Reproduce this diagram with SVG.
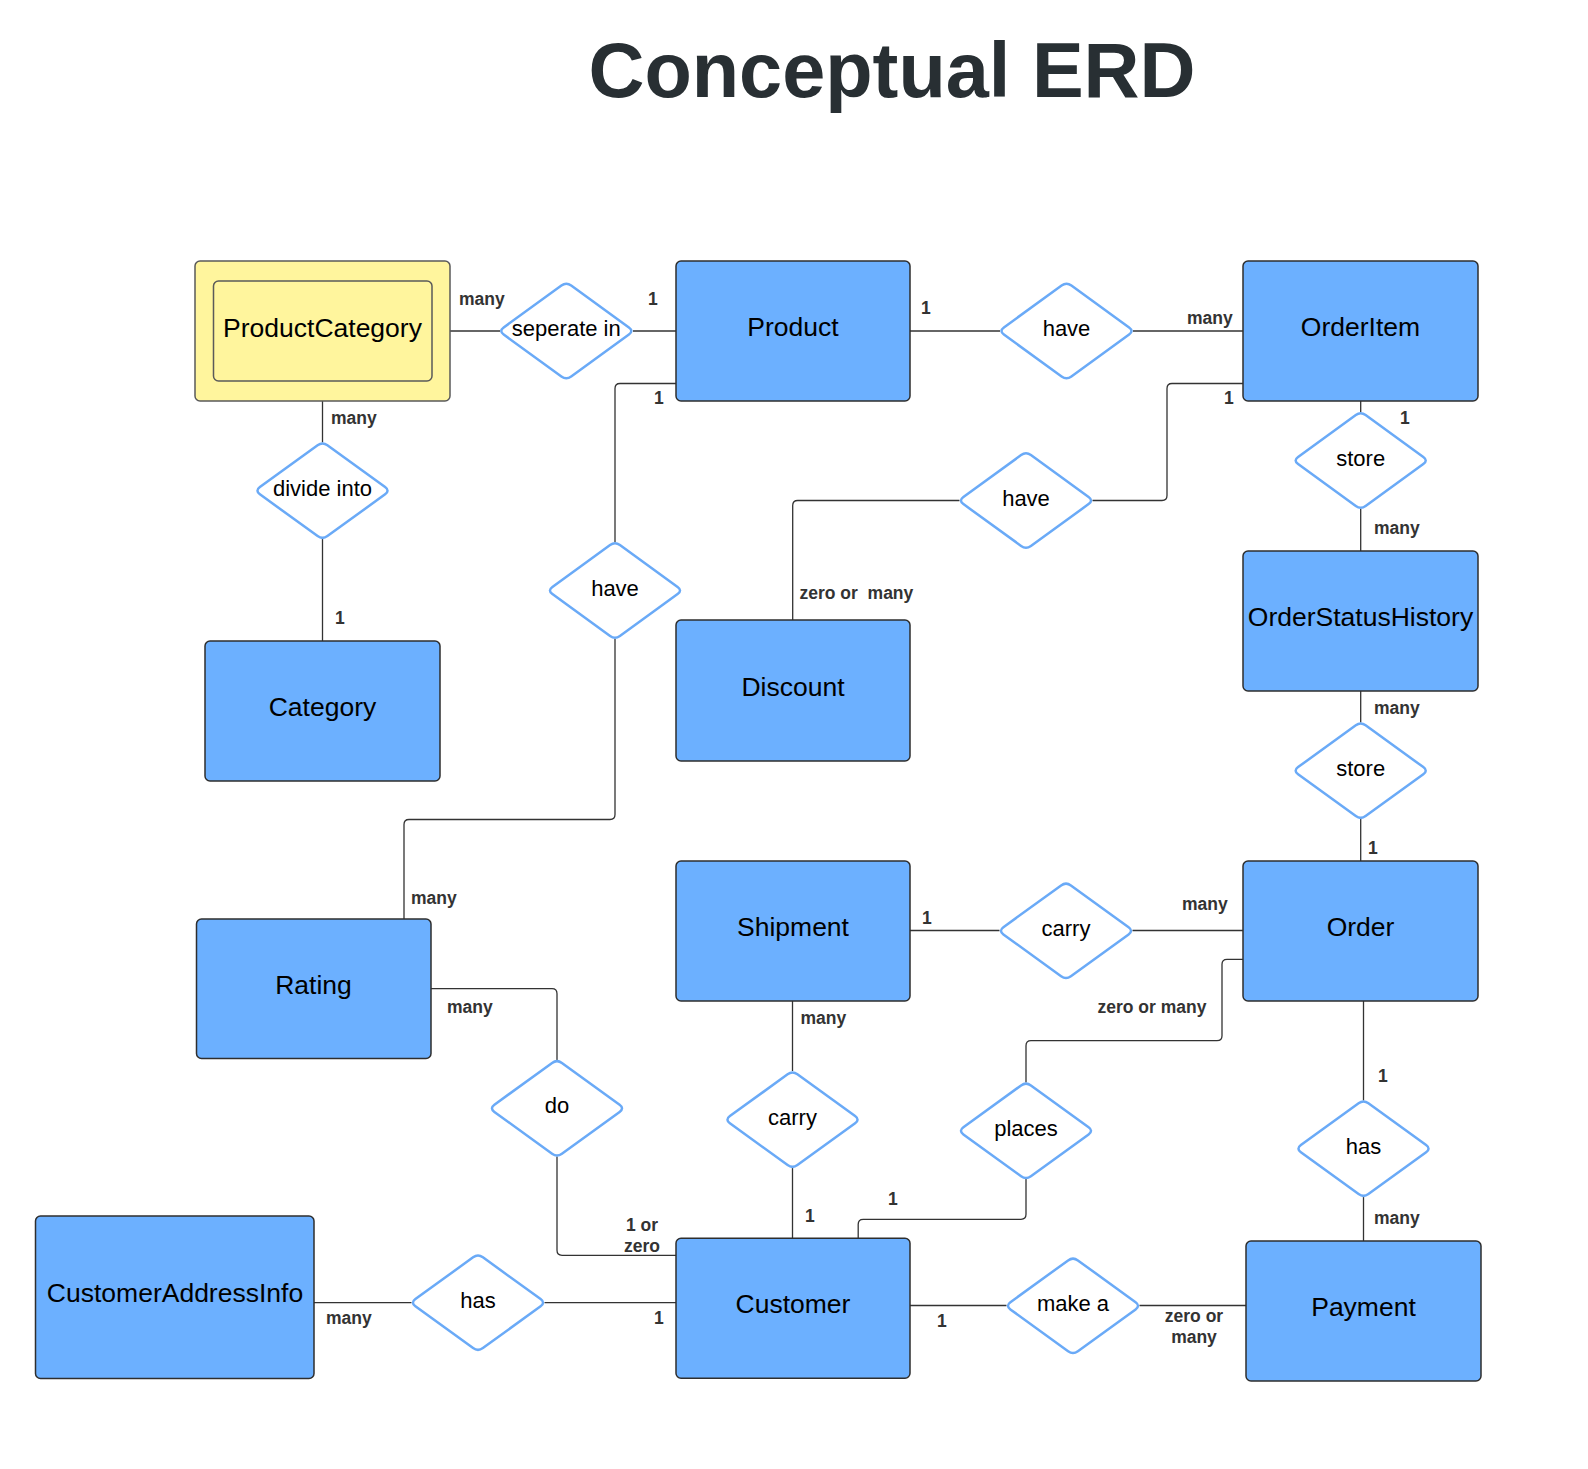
<svg xmlns="http://www.w3.org/2000/svg" xmlns:xlink="http://www.w3.org/1999/xlink" width="1588" height="1469" viewBox="0 0 1588 1469">
<style>
.ent{fill:#6cb0ff;stroke:#2e2e2e;stroke-width:1.5}
.weak{fill:#fff59d;stroke:#5a5a5a;stroke-width:1.5}
.dia{fill:#ffffff;stroke:#6aaaf7;stroke-width:2.5}
.et{font-family:"Liberation Sans",Arial,sans-serif;font-size:26.5px;fill:#000;text-anchor:middle}
.dt{font-family:"Liberation Sans",Arial,sans-serif;font-size:22px;fill:#000;text-anchor:middle}
.lb{font-family:"Liberation Sans",Arial,sans-serif;font-size:17.5px;font-weight:bold;fill:#333;white-space:pre}
.lbm{font-family:"Liberation Sans",Arial,sans-serif;font-size:17.5px;font-weight:bold;fill:#333;text-anchor:middle}
.cn{fill:none;stroke:#333;stroke-width:1.3}
.title{font-family:"Liberation Sans",Arial,sans-serif;font-size:77.5px;font-weight:bold;fill:#282f33;text-anchor:middle}
</style>
<defs>
<path id="dia" d="M 4.9,-45.4 L 62.6,-3.6 Q 67.5,0 62.6,3.6 L 4.9,45.4 Q 0,49 -4.9,45.4 L -62.6,3.6 Q -67.5,0 -62.6,-3.6 L -4.9,-45.4 Q 0,-49 4.9,-45.4 Z"/>
</defs>
<rect width="1588" height="1469" fill="#ffffff"/>
<text class="title" x="892" y="97">Conceptual ERD</text>

<g id="connectors">
<path class="cn" d="M450,331 H500"/>
<path class="cn" d="M633,331 H676"/>
<path class="cn" d="M910,331 H1000"/>
<path class="cn" d="M1133,331 H1243"/>
<path class="cn" d="M676,383.5 H620 Q615,383.5 615,388.5 V542"/>
<path class="cn" d="M615,639 V814.5 Q615,819.5 610,819.5 H409 Q404,819.5 404,824.5 V919"/>
<path class="cn" d="M322.5,401 V442.5"/>
<path class="cn" d="M322.5,539 V641"/>
<path class="cn" d="M1243,383.5 H1172 Q1167,383.5 1167,388.5 V495.5 Q1167,500.5 1162,500.5 H1092.5"/>
<path class="cn" d="M959.5,500.5 H797.7 Q792.7,500.5 792.7,505.5 V620"/>
<path class="cn" d="M1360.7,401 V412"/>
<path class="cn" d="M1360.7,509 V551"/>
<path class="cn" d="M1360.7,691 V722.5"/>
<path class="cn" d="M1360.7,819 V861"/>
<path class="cn" d="M910,930.5 H999.5"/>
<path class="cn" d="M1132.5,930.5 H1243"/>
<path class="cn" d="M1243,959.3 H1227 Q1222,959.3 1222,964.3 V1035.7 Q1222,1040.7 1217,1040.7 H1031 Q1026,1040.7 1026,1045.7 V1082.5"/>
<path class="cn" d="M1026,1179 V1214.3 Q1026,1219.3 1021,1219.3 H863.2 Q858.2,1219.3 858.2,1224.3 V1238.3"/>
<path class="cn" d="M792.5,1001 V1071"/>
<path class="cn" d="M792.5,1168 V1238.3"/>
<path class="cn" d="M1363.5,1001 V1100.5"/>
<path class="cn" d="M1363.5,1197 V1241"/>
<path class="cn" d="M431,988.7 H552 Q557,988.7 557,993.7 V1060"/>
<path class="cn" d="M557,1156.5 V1250.3 Q557,1255.3 562,1255.3 H676"/>
<path class="cn" d="M314,1302.7 H411.5"/>
<path class="cn" d="M544.5,1302.7 H676"/>
<path class="cn" d="M910,1305.5 H1006.5"/>
<path class="cn" d="M1139.5,1305.5 H1246"/>
</g>

<g id="labels">
<text class="lb" x="459" y="305">many</text>
<text class="lb" x="648" y="305">1</text>
<text class="lb" x="331" y="424">many</text>
<text class="lb" x="654" y="404">1</text>
<text class="lb" x="921" y="314">1</text>
<text class="lb" x="1187" y="324">many</text>
<text class="lb" x="1224" y="404">1</text>
<text class="lb" x="1400" y="424">1</text>
<text class="lb" x="1374" y="534">many</text>
<text class="lb" x="335" y="624">1</text>
<text class="lb" x="799.5" y="599">zero or  many</text>
<text class="lb" x="1374" y="714">many</text>
<text class="lb" x="1368" y="854">1</text>
<text class="lb" x="411" y="904">many</text>
<text class="lb" x="447" y="1013">many</text>
<text class="lbm" x="642" y="1230.5">1 or</text>
<text class="lbm" x="642" y="1251.5">zero</text>
<text class="lb" x="800.5" y="1024">many</text>
<text class="lb" x="805" y="1221.5">1</text>
<text class="lb" x="922" y="924">1</text>
<text class="lb" x="1182" y="910">many</text>
<text class="lb" x="1097.5" y="1013">zero or many</text>
<text class="lb" x="1378" y="1082">1</text>
<text class="lb" x="888" y="1205">1</text>
<text class="lb" x="1374" y="1224">many</text>
<text class="lb" x="326" y="1324">many</text>
<text class="lb" x="654" y="1324">1</text>
<text class="lb" x="937" y="1327">1</text>
<text class="lbm" x="1194" y="1321.5">zero or</text>
<text class="lbm" x="1194" y="1342.5">many</text>
</g>

<g id="ProductCategory">
<rect class="weak" x="195" y="261" width="255" height="140" rx="5"/>
<rect class="weak" x="213.5" y="281" width="218.5" height="100" rx="5"/>
<text class="et" x="322.5" y="337">ProductCategory</text>
</g>
<g id="Product">
<rect class="ent" x="676" y="261" width="234" height="140" rx="5"/>
<text class="et" x="793" y="336">Product</text>
</g>
<g id="OrderItem">
<rect class="ent" x="1243" y="261" width="235" height="140" rx="5"/>
<text class="et" x="1360.5" y="336">OrderItem</text>
</g>
<g id="OrderStatusHistory">
<rect class="ent" x="1243" y="551" width="235" height="140" rx="5"/>
<text class="et" x="1360.5" y="626">OrderStatusHistory</text>
</g>
<g id="Category">
<rect class="ent" x="205" y="641" width="235" height="140" rx="5"/>
<text class="et" x="322.5" y="716">Category</text>
</g>
<g id="Discount">
<rect class="ent" x="676" y="620" width="234" height="141" rx="5"/>
<text class="et" x="793" y="695.5">Discount</text>
</g>
<g id="Shipment">
<rect class="ent" x="676" y="861" width="234" height="140" rx="5"/>
<text class="et" x="793" y="936">Shipment</text>
</g>
<g id="Order">
<rect class="ent" x="1243" y="861" width="235" height="140" rx="5"/>
<text class="et" x="1360.5" y="936">Order</text>
</g>
<g id="Rating">
<rect class="ent" x="196.5" y="919" width="234.5" height="139.5" rx="5"/>
<text class="et" x="313.5" y="993.5">Rating</text>
</g>
<g id="CustomerAddressInfo">
<rect class="ent" x="35.5" y="1216" width="278.5" height="162.5" rx="5"/>
<text class="et" x="175" y="1302">CustomerAddressInfo</text>
</g>
<g id="Customer">
<rect class="ent" x="676" y="1238.3" width="234" height="140" rx="5"/>
<text class="et" x="793" y="1313">Customer</text>
</g>
<g id="Payment">
<rect class="ent" x="1246" y="1241" width="235" height="140" rx="5"/>
<text class="et" x="1363.5" y="1316">Payment</text>
</g>

<g id="rel-seperate-in"><use xlink:href="#dia" class="dia" x="566.3" y="331"/><text class="dt" x="566.3" y="336">seperate in</text></g>
<g id="rel-have-orderitem"><use xlink:href="#dia" class="dia" x="1066.5" y="331"/><text class="dt" x="1066.5" y="336">have</text></g>
<g id="rel-divide-into"><use xlink:href="#dia" class="dia" x="322.5" y="490.7"/><text class="dt" x="322.5" y="495.7">divide into</text></g>
<g id="rel-have-discount"><use xlink:href="#dia" class="dia" x="1026" y="500.5"/><text class="dt" x="1026" y="505.5">have</text></g>
<g id="rel-store-1"><use xlink:href="#dia" class="dia" x="1360.7" y="460.5"/><text class="dt" x="1360.7" y="465.5">store</text></g>
<g id="rel-have-rating"><use xlink:href="#dia" class="dia" x="615" y="590.5"/><text class="dt" x="615" y="595.5">have</text></g>
<g id="rel-store-2"><use xlink:href="#dia" class="dia" x="1360.7" y="770.7"/><text class="dt" x="1360.7" y="775.7">store</text></g>
<g id="rel-carry-order"><use xlink:href="#dia" class="dia" x="1066" y="930.8"/><text class="dt" x="1066" y="935.8">carry</text></g>
<g id="rel-do"><use xlink:href="#dia" class="dia" x="557" y="1108.3"/><text class="dt" x="557" y="1113.3">do</text></g>
<g id="rel-carry-customer"><use xlink:href="#dia" class="dia" x="792.5" y="1119.7"/><text class="dt" x="792.5" y="1124.7">carry</text></g>
<g id="rel-places"><use xlink:href="#dia" class="dia" x="1026" y="1130.8"/><text class="dt" x="1026" y="1135.8">places</text></g>
<g id="rel-has-payment"><use xlink:href="#dia" class="dia" x="1363.5" y="1148.7"/><text class="dt" x="1363.5" y="1153.7">has</text></g>
<g id="rel-has-address"><use xlink:href="#dia" class="dia" x="478" y="1302.7"/><text class="dt" x="478" y="1307.7">has</text></g>
<g id="rel-make-a"><use xlink:href="#dia" class="dia" x="1073" y="1305.8"/><text class="dt" x="1073" y="1310.8">make a</text></g>
</svg>
